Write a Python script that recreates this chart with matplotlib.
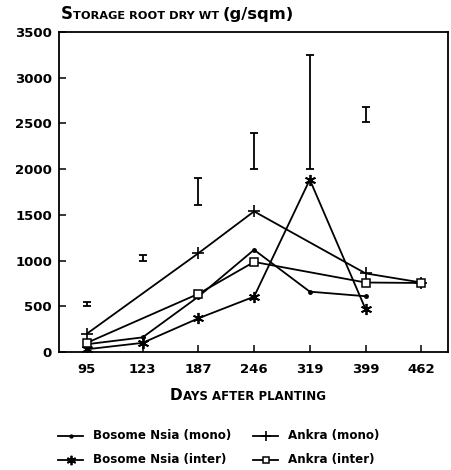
import numpy as np
import matplotlib
matplotlib.use("Agg")
import matplotlib.pyplot as plt
from matplotlib.lines import Line2D

# ---- data ----
days = ["95", "123", "187", "246", "319", "399", "462"]
bosome_mono = [85, 160, 605, 1118, 660, 610, None]
bosome_inter = [30, 100, 368, 605, 1885, 470, None]
ankra_mono = [200, None, 1080, 1538, None, 860, 760]
ankra_inter = [100, None, 636, 985, None, 760, 755]
lsd_low = [505, 1000, 1605, 2003, 2005, 2515]
lsd_high = [550, 1063, 1905, 2390, 3245, 2680]
y_ticks = [0, 500, 1000, 1500, 2000, 2500, 3000, 3500]

W, H = 451, 470
fig = plt.figure(figsize=(W / 100, H / 100), dpi=100)
fig.patch.set_facecolor("white")

ax_l, ax_r, ax_t, ax_b = 59, 448, 32, 352
ax = fig.add_axes([ax_l / W, 1 - ax_b / H, (ax_r - ax_l) / W, (ax_b - ax_t) / H])

FONT = "DejaVu Sans"
x = np.arange(len(days))

series = [
    ("Bosome Nsia (mono)", bosome_mono, dict(marker="o", ms=2.5, mfc="black")),
    ("Bosome Nsia (inter)", bosome_inter, dict(marker=(6, 2, 0), ms=8, mew=1.3)),
    ("Ankra (mono)", ankra_mono, dict(marker="+", ms=9, mew=1.2)),
    ("Ankra (inter)", ankra_inter, dict(marker="s", ms=5.5, mfc="white", mew=1.1)),
]
handles = []
for name, vals, st in series:
    xs = [xi for xi, v in zip(x, vals) if v is not None]
    ys = [v for v in vals if v is not None]
    (ln,) = ax.plot(xs, ys, color="black", lw=1.3, mec="black", label=name, **st)
    handles.append(ln)

lo = np.array(lsd_low, float)
hi = np.array(lsd_high, float)
ax.errorbar(x[: len(lo)], (lo + hi) / 2, yerr=(hi - lo) / 2, fmt="none",
            ecolor="black", elinewidth=1.3, capsize=2.6, capthick=1.3)

ax.set_xlim(-0.5, 6.48)
ax.set_ylim(0, 3500)
ax.set_xticks(x)
ax.set_xticklabels(days)
ax.set_yticks(y_ticks)
ax.tick_params(direction="in", length=5, width=1.1, color="black")
ax.tick_params(axis="x", pad=8)
ax.tick_params(axis="y", pad=5)
for lab in ax.get_xticklabels() + ax.get_yticklabels():
    lab.set_fontfamily(FONT)
    lab.set_fontweight("bold")
    lab.set_fontsize(9.5)
for s in ax.spines.values():
    s.set_linewidth(1.3)
    s.set_color("black")

renderer = fig.canvas.get_renderer()


def pieces(x0, ybase, parts):
    """Place text pieces left to right (pixel coords, y from top)."""
    cx = x0
    for txt, size in parts:
        t = fig.text(cx / W, 1 - ybase / H, txt, fontsize=size, fontweight="bold",
                     family=FONT, va="baseline", ha="left")
        bb = t.get_window_extent(renderer)
        cx += bb.width


pieces(61, 19, [("S", 12), ("TORAGE ROOT DRY WT ", 8.2), ("(g/sqm)", 11.8)])
pieces(170, 400, [("D", 11), ("AYS AFTER PLANTING", 8.5)])

# ---- legend ----
leg_rows = [436, 460]
cols = [(58, 83, 93), (253, 278, 288)]
order = [(0, 0), (1, 0), (0, 1), (1, 1)]  # (row, col) for each series
for h, (r, c) in zip(handles, order):
    x0, x1, xt = cols[c]
    y = 1 - leg_rows[r] / H
    line = Line2D([x0 / W, (x0 + x1) / 2 / W, x1 / W], [y, y, y],
                  transform=fig.transFigure, color="black", lw=1.3,
                  marker=h.get_marker(), ms=h.get_markersize() * 0.85,
                  mfc=h.get_markerfacecolor(), mec="black",
                  mew=h.get_markeredgewidth(), markevery=[1])
    fig.add_artist(line)
    fig.text(xt / W, y, h.get_label(), fontsize=8.6, fontweight="bold",
             family=FONT, va="center", ha="left")

fig.savefig("out.png", dpi=100)
